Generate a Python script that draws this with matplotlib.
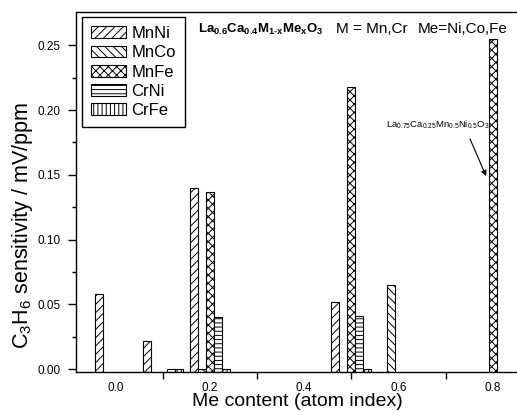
import numpy as np
import matplotlib
matplotlib.use("Agg")
import matplotlib.pyplot as plt

plt.rcParams['font.family'] = ['Liberation Sans', 'DejaVu Sans']
plt.rcParams['mathtext.fontset'] = 'custom'
plt.rcParams['mathtext.rm'] = 'Liberation Sans'
plt.rcParams['mathtext.it'] = 'Liberation Sans:italic'
plt.rcParams['mathtext.bf'] = 'Liberation Sans:bold'
plt.rcParams['hatch.linewidth'] = 0.7

# ---- data ----
me_content = [0.0, 0.1, 0.2, 0.5, 0.6, 0.8]
series_names = ["MnNi", "MnCo", "MnFe", "CrNi", "CrFe"]
mnni = [0.058, 0.022, 0.140, 0.052, None, None]
mnco = [None, None, 0.0005, None, 0.065, None]
mnfe = [None, None, 0.137, 0.218, None, 0.255]
crni = [None, 0.0005, 0.040, 0.041, None, None]
crfe = [None, 0.0005, 0.0005, 0.0005, None, None]
hatches = ["////", "\\\\\\\\", "xxxx", "----", "||||"]

x_tick_marks = [0.1, 0.3, 0.5, 0.7]
x_labels_pos = [0.0, 0.2, 0.4, 0.6, 0.8]
x_labels = ["0.0", "0.2", "0.4", "0.6", "0.8"]
y_ticks = [0.00, 0.05, 0.10, 0.15, 0.20, 0.25]

Y_MIN, Y_MAX = -0.0022, 0.2757
X_MIN, X_MAX = -0.0837, 0.851
BAR_W = 0.017

fig = plt.figure(figsize=(5.17, 4.12), dpi=100)
ax = fig.add_axes([76/517, 1-372/412, 441/517, 360/412])

all_series = [mnni, mnco, mnfe, crni, crfe]
for k, (name, vals, h) in enumerate(zip(series_names, all_series, hatches)):
    off = (k - 2) * BAR_W
    xs = [x + off for x, v in zip(me_content, vals) if v is not None]
    hs = [v - Y_MIN for v in vals if v is not None]
    ax.bar(xs, hs, width=BAR_W, bottom=Y_MIN, color='white',
           edgecolor='black', linewidth=0.8, hatch=h, label=name)

ax.set_xlim(X_MIN, X_MAX)
ax.set_ylim(Y_MIN, Y_MAX)
ax.spines['right'].set_visible(False)
for s in ['left', 'bottom', 'top']:
    ax.spines[s].set_linewidth(1.0)

ax.set_xticks(x_tick_marks)
ax.set_xticklabels([])
ax.set_xticks(x_labels_pos, minor=True)
ax.set_xticklabels(x_labels, minor=True)
ax.tick_params(axis='x', which='major', direction='out', length=5, width=1)
ax.tick_params(axis='x', which='minor', length=0, pad=7, labelsize=8.5)

ax.set_yticks(y_ticks)
ax.set_yticklabels([f"{t:.2f}" for t in y_ticks])
ax.set_yticks(np.arange(0.025, 0.27, 0.05), minor=True)
ax.tick_params(axis='y', which='major', direction='out', length=6, width=1,
               labelsize=8.5, pad=5)
ax.tick_params(axis='y', which='minor', direction='out', length=3, width=1)

ax.set_xlabel("Me content (atom index)", fontsize=14, va='center')
ax.xaxis.set_label_coords(0.502, -0.083)
ax.set_ylabel(r"C$_3$H$_6$ sensitivity / mV/ppm", fontsize=15.5, va='center')
ax.yaxis.set_label_coords(-0.1224, 0.408)

leg = ax.legend(loc='upper left', bbox_to_anchor=(0.0136, 0.986),
                borderaxespad=0, fontsize=12, fancybox=False,
                edgecolor='black', framealpha=1, handlelength=2.1,
                handleheight=0.72, handletextpad=0.3, labelspacing=0.25,
                borderpad=0.55)
leg.get_frame().set_linewidth(1.0)

fig.text(198/517, 1-29/412, r"$\mathbf{La_{0.6}Ca_{0.4}M_{1\text{-}x}Me_{x}O_{3}}$",
         fontsize=9.5, ha='left', va='center')
fig.text(336/517, 1-29/412, "M = Mn,Cr", fontsize=11, ha='left', va='center')
fig.text(418/517, 1-29/412, "Me=Ni,Co,Fe", fontsize=11, ha='left', va='center')

ax.text(0.5735, 0.1869, r"La$_{0.75}$Ca$_{0.25}$Mn$_{0.5}$Ni$_{0.5}$O$_{3}$",
        fontsize=6.8, ha='left', va='baseline')
ax.annotate('', xy=(0.7855, 0.149), xytext=(0.7515, 0.1777),
            arrowprops=dict(arrowstyle='-|>', color='black', lw=0.8,
                            mutation_scale=8, shrinkA=0, shrinkB=0))

fig.savefig("out.png", dpi=100)
